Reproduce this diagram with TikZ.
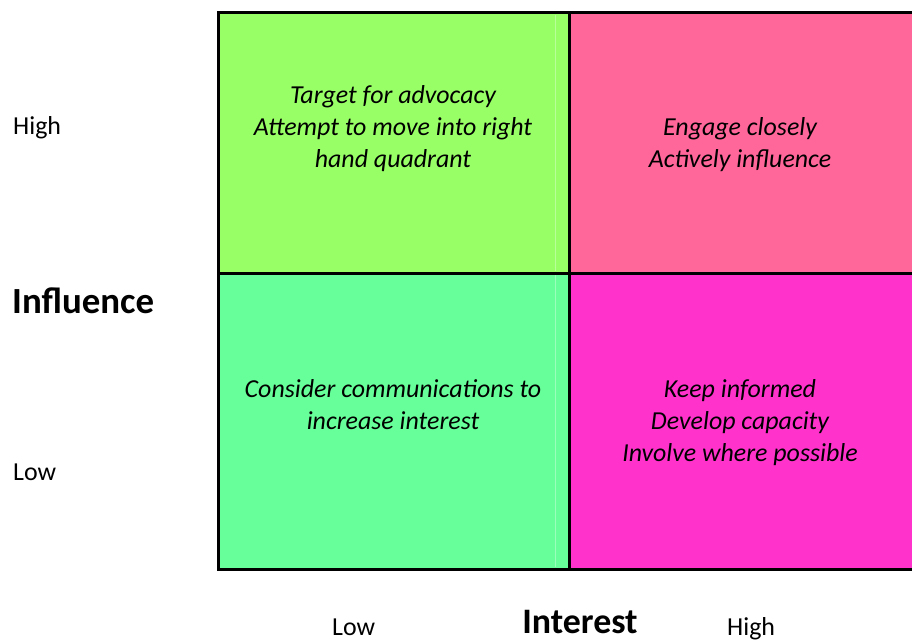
\documentclass[tikz,border=0pt]{standalone}
\usepackage{fontspec}
\setmainfont{Carlito}
\definecolor{tlgreen}{HTML}{99FF66}
\definecolor{trpink}{HTML}{FF6699}
\definecolor{blgreen}{HTML}{66FF99}
\definecolor{brmag}{HTML}{FF33CC}
\definecolor{tlfaint}{HTML}{B8FF99}
\definecolor{blfaint}{HTML}{99FFBB}
\begin{document}
\begin{tikzpicture}[x=1bp,y=-1bp,
  celltxt/.style={anchor=base,inner sep=0pt,font=\fontsize{26}{32}\selectfont\itshape},
  axtxt/.style={anchor=base west,inner sep=0pt,font=\fontsize{26}{31}\selectfont},
  axtitle/.style={anchor=base west,inner sep=0pt,font=\fontsize{37}{44}\selectfont\bfseries},
  gridline/.style={line width=3bp,black}]
\useasboundingbox (0,0) rectangle (912,641);
% cells
\fill[tlgreen] (218,13) rectangle (569,273);
\fill[trpink] (569,13) rectangle (912,273);
\fill[blgreen] (218,273) rectangle (569,569);
\fill[brmag] (569,273) rectangle (912,569);
\draw[tlfaint,line width=1bp] (555,15) -- (555,271);
\draw[blfaint,line width=1bp] (555,275) -- (555,567);
% grid
\coordinate (tl) at (218,13);
\coordinate (tr) at (912,13);
\coordinate (bl) at (218,569);
\coordinate (br) at (912,569);
\coordinate (mt) at (569,13);
\coordinate (mb) at (569,569);
\coordinate (ml) at (218,273);
\coordinate (mr) at (912,273);
\draw[gridline] (tr) -- (tl) -- (bl) -- (br);
\draw[gridline] (mt) -- (mb);
\draw[gridline] (ml) -- (mr);
% cell texts
\node[celltxt] (a1) at (393,104) {Target for advocacy};
\node[celltxt] (a2) at (393,136) {Attempt to move into right};
\node[celltxt] (a3) at (393,168) {hand quadrant};
\node[celltxt] (b1) at (740,136) {Engage closely};
\node[celltxt] (b2) at (740,168) {Actively influence};
\node[celltxt] (c1) at (393,397) {Consider communications to};
\node[celltxt] (c2) at (393,429) {increase interest};
\node[celltxt] (d1) at (740,397) {Keep informed};
\node[celltxt] (d2) at (740,429) {Develop capacity};
\node[celltxt] (d3) at (740,461) {Involve where possible};
% axis labels
\node[axtxt] (yhigh) at (13,135) {High};
\node[axtitle] (ytitle) at (12,313) {Influence};
\node[axtxt] (ylow) at (13,480) {Low};
\node[axtxt] (xlow) at (332,635) {Low};
\node[axtitle,anchor=base,font=\fontsize{36}{43}\selectfont\bfseries] (xtitle) at (580,633) {Interest};
\node[axtxt] (xhigh) at (727,635) {High};
\end{tikzpicture}
\end{document}
